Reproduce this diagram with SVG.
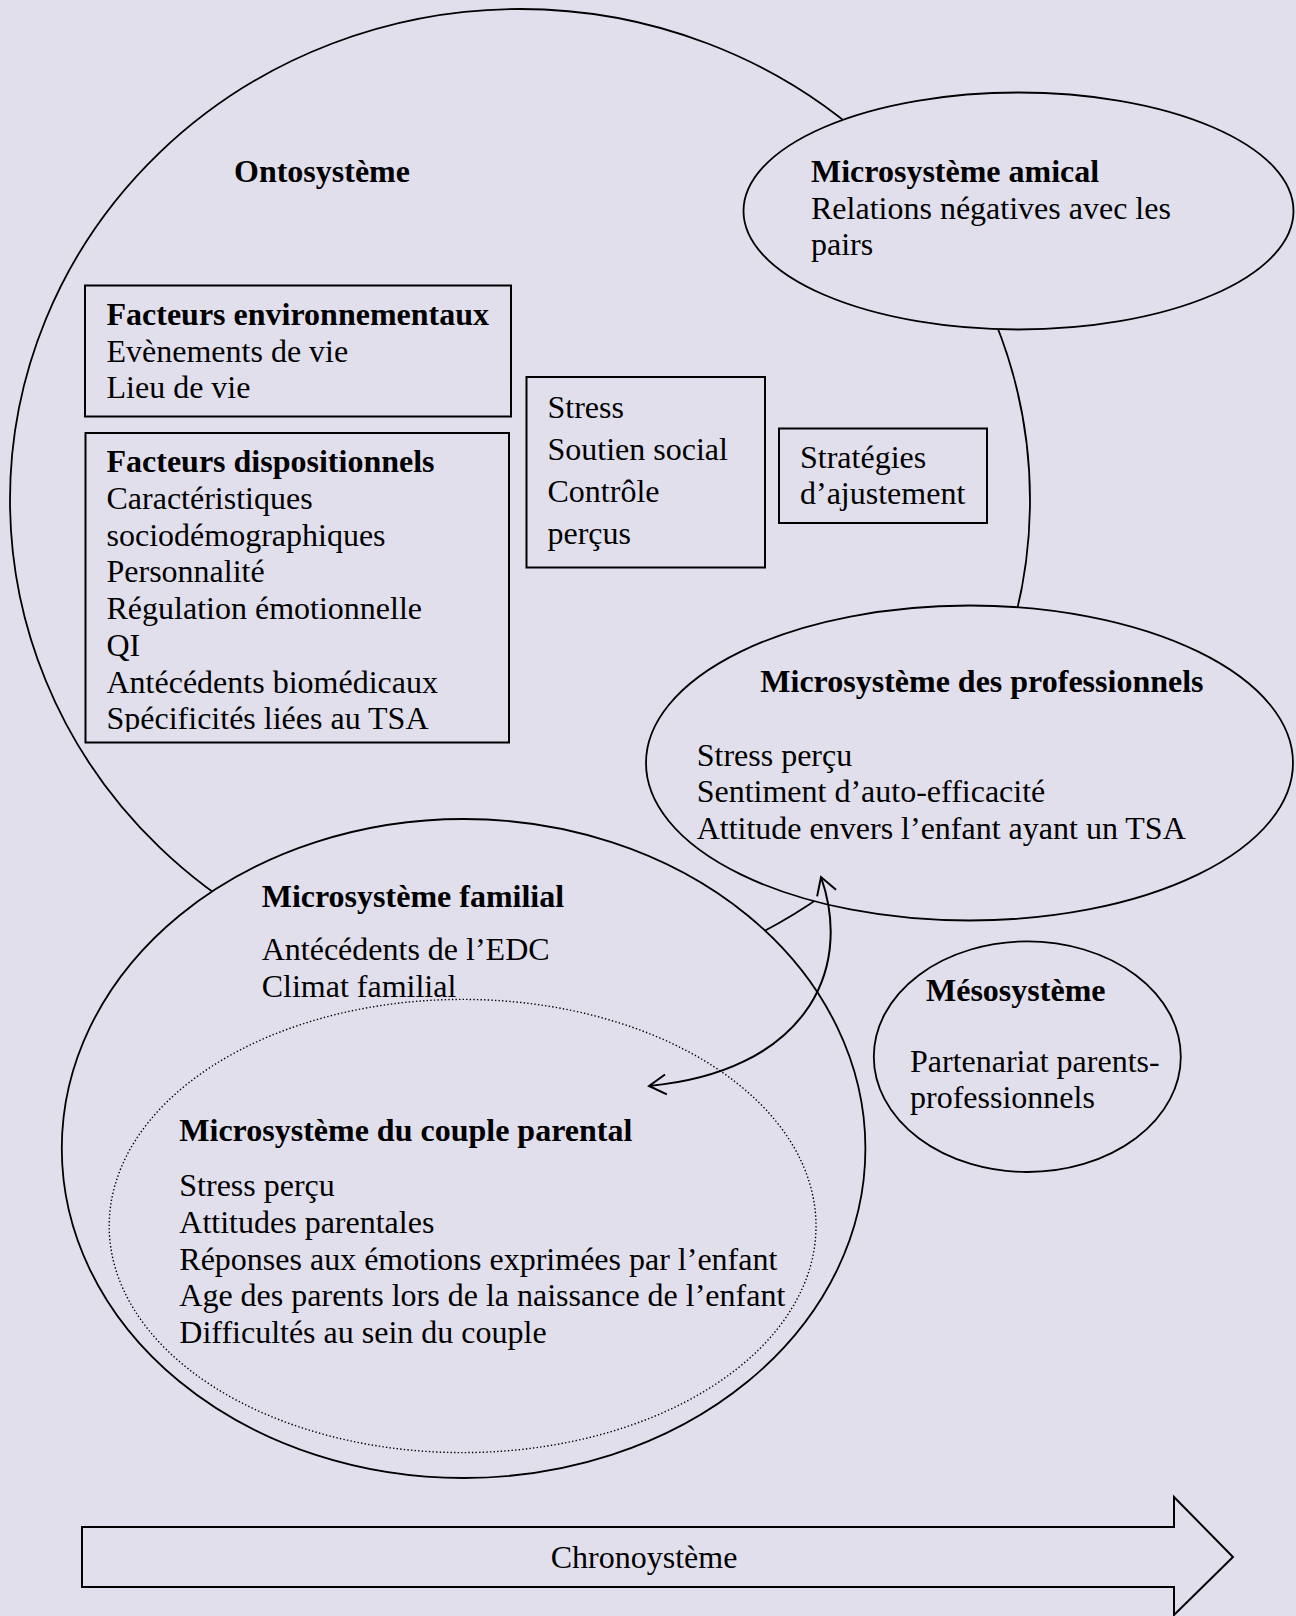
<svg xmlns="http://www.w3.org/2000/svg" width="1296" height="1616" viewBox="0 0 1296 1616">
  <style>
    text { font-family: "Liberation Serif", "Times New Roman", serif; font-size: 32px; fill: #000; }
    .b { font-weight: bold; }
    .shape { fill: #E2DFEC; stroke: #000; stroke-width: 1.8; }
    .box { fill: #E2DFEC; stroke: #000; stroke-width: 2; }
    .dotted { fill: none; stroke: #000; stroke-width: 1.4; stroke-dasharray: 1.4 2.2; }
    .conn { fill: none; stroke: #000; stroke-width: 2; }
  </style>
  <defs>
    <marker id="chev" viewBox="-22 -14 26 28" refX="0" refY="0" markerWidth="26" markerHeight="28" markerUnits="userSpaceOnUse" orient="auto-start-reverse" overflow="visible">
      <path d="M-17,-10 L0,0 L-17,10" fill="none" stroke="#000" stroke-width="2"/>
    </marker>
    <clipPath id="clipDisp">
      <rect x="86" y="434" width="422" height="298"/>
    </clipPath>
  </defs>
  <rect x="0" y="0" width="1296" height="1616" fill="#E2DFEC"/>

  <g id="ontosysteme">
    <ellipse class="shape" cx="520" cy="500" rx="510" ry="491"/>
    <text class="b" x="234" y="181.5">Ontosystème</text>
  </g>

  <g id="facteurs-environnementaux">
    <rect class="box" x="85" y="285.5" width="426" height="131"/>
    <text class="b" x="106.5" y="325">Facteurs environnementaux</text>
    <text x="106.5" y="361.7">Evènements de vie</text>
    <text x="106.5" y="398.3">Lieu de vie</text>
  </g>

  <g id="facteurs-dispositionnels">
    <rect class="box" x="85.5" y="433" width="423.5" height="309.5"/>
    <g clip-path="url(#clipDisp)">
      <text class="b" x="106.5" y="472.3">Facteurs dispositionnels</text>
      <text x="106.5" y="509">Caractéristiques</text>
      <text x="106.5" y="545.7">sociodémographiques</text>
      <text x="106.5" y="582.4">Personnalité</text>
      <text x="106.5" y="619">Régulation émotionnelle</text>
      <text x="106.5" y="655.8">QI</text>
      <text x="106.5" y="692.5">Antécédents biomédicaux</text>
      <text x="106.5" y="729.2">Spécificités liées au TSA</text>
    </g>
  </g>

  <g id="stress-soutien-controle">
    <rect class="box" x="526.5" y="377" width="238.5" height="190.5"/>
    <text x="547.5" y="417.5">Stress</text>
    <text x="547.5" y="459.5">Soutien social</text>
    <text x="547.5" y="501.5">Contrôle</text>
    <text x="547.5" y="543.5">perçus</text>
  </g>

  <g id="strategies">
    <rect class="box" x="779" y="428.5" width="208" height="94.5"/>
    <text x="800" y="467.5">Stratégies</text>
    <text x="800" y="504">d’ajustement</text>
  </g>

  <g id="microsysteme-familial">
    <ellipse class="shape" cx="463.6" cy="1148.5" rx="401.8" ry="329.5"/>
    <text class="b" x="261.7" y="906.5">Microsystème familial</text>
    <text x="261.7" y="960">Antécédents de l’EDC</text>
    <text x="261.7" y="997.3">Climat familial</text>
  </g>

  <g id="microsysteme-couple-parental">
    <ellipse class="dotted" cx="462.6" cy="1226" rx="353.4" ry="226.6"/>
    <text class="b" x="179.3" y="1141">Microsystème du couple parental</text>
    <text x="179.3" y="1196">Stress perçu</text>
    <text x="179.3" y="1232.8">Attitudes parentales</text>
    <text x="179.3" y="1269.6">Réponses aux émotions exprimées par l’enfant</text>
    <text x="179.3" y="1306.4">Age des parents lors de la naissance de l’enfant</text>
    <text x="179.3" y="1343.2">Difficultés au sein du couple</text>
  </g>

  <g id="microsysteme-amical">
    <ellipse class="shape" cx="1018.5" cy="211" rx="275" ry="118.5"/>
    <text class="b" x="811" y="182">Microsystème amical</text>
    <text x="811" y="218.5">Relations négatives avec les</text>
    <text x="811" y="255">pairs</text>
  </g>

  <g id="microsysteme-professionnels">
    <ellipse class="shape" cx="969.5" cy="763" rx="323.5" ry="157.5"/>
    <text class="b" x="760.3" y="692">Microsystème des professionnels</text>
    <text x="696.7" y="765.5">Stress perçu</text>
    <text x="696.7" y="802.3">Sentiment d’auto-efficacité</text>
    <text x="696.7" y="839.1">Attitude envers l’enfant ayant un TSA</text>
  </g>

  <g id="mesosysteme">
    <ellipse class="shape" cx="1027.3" cy="1056.7" rx="153.5" ry="115.3"/>
    <text class="b" x="926" y="1001">Mésosystème</text>
    <text x="910" y="1071.7">Partenariat parents-</text>
    <text x="910" y="1108.3">professionnels</text>
  </g>

  <g id="chronosysteme">
    <polygon class="box" points="82,1527 1174,1527 1174,1497 1233,1557 1174,1615 1174,1587 82,1587"/>
    <text x="550.7" y="1568">Chronoystème</text>
  </g>

  <g id="connectors">
    <path class="conn" d="M 649 1086 C 800 1072 855 975 821 877" marker-start="url(#chev)" marker-end="url(#chev)"/>
  </g>
</svg>
